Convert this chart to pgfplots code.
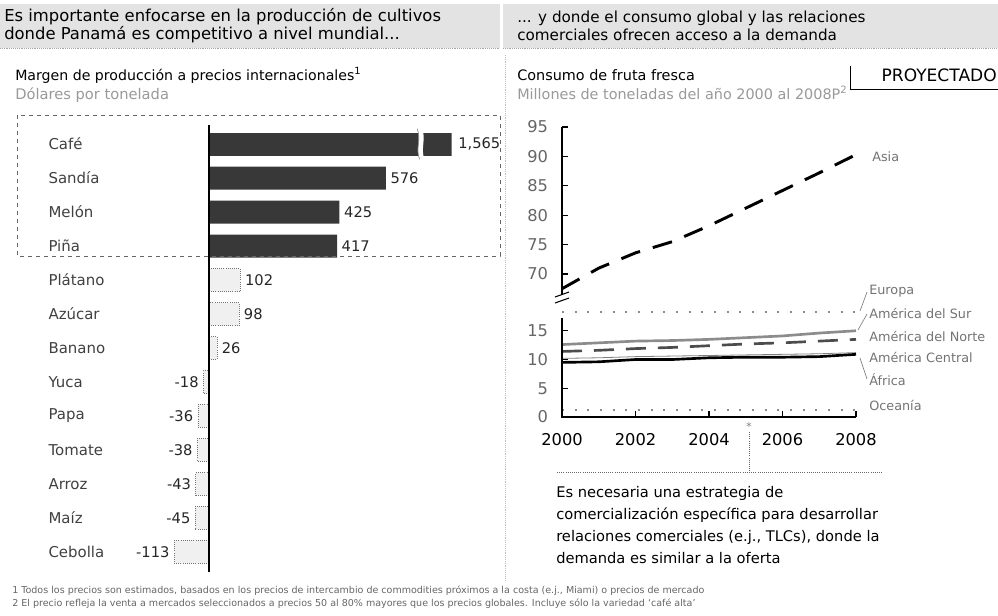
\documentclass[border=0pt]{standalone}
\usepackage{pgfplots}
\pgfplotsset{compat=1.18}
\usepackage{fontspec}
\setmainfont{DejaVu Sans}
\pgfplotsset{/pgf/number format/assume math mode=true}
\begin{document}
\begin{tikzpicture}
\path[use as bounding box] (0,0) rectangle (748.5pt,-461.25pt);

% ---------------- left bar chart ----------------
\begin{axis}[at={(96.89pt,-429pt)}, anchor=south west, scale only axis,
  width=241.76pt, height=335.25pt,
  xmin=-260, xmax=790, ymin=-0.56, ymax=12.59, y dir=reverse,
  xbar, bar width=17.25pt, bar shift=0pt,
  axis line style={draw=none}, xtick=\empty,
  ytick={0,...,12},
  yticklabels={Café,Sandía,Melón,Piña,Plátano,Azúcar,Banano,Yuca,Papa,Tomate,Arroz,Maíz,Cebolla},
  major tick length=0pt,
  yticklabel style={anchor=west, xshift=-64pt, font=\fontsize{11.2}{12}\selectfont, text=black!75},
  nodes near coords style={font=\fontsize{11}{12}\selectfont, text=black!85},
  point meta=x]
\addplot[fill=black!78, draw=none] coordinates {(1565,0)};
\addplot[fill=black!78, draw=none, nodes near coords] coordinates {(576,1) (425,2) (417,3)};
\addplot[fill=black!6, draw=black!55, densely dotted, line width=0.6pt, nodes near coords]
  coordinates {(102,4) (98,5) (26,6) (-18,7) (-36,8) (-38,9) (-43,10) (-45,11) (-113,12)};
\draw[line width=1.6pt] (axis cs:0,-0.56) -- (axis cs:0,12.59);
\fill[white] (axis cs:678,-0.45) .. controls (axis cs:692,-0.15) and (axis cs:672,0.15) .. (axis cs:686,0.45)
  -- (axis cs:702,0.45) .. controls (axis cs:688,0.15) and (axis cs:708,-0.15) .. (axis cs:694,-0.45) -- cycle;
\draw[black!45, line width=0.5pt] (axis cs:678,-0.45) .. controls (axis cs:692,-0.15) and (axis cs:672,0.15) .. (axis cs:686,0.45);
\end{axis}

% ---------------- right lower axis ----------------
\begin{axis}[at={(421.5pt,-312.75pt)}, anchor=south west, scale only axis,
  width=220.5pt, height=86.25pt,
  xmin=2000, xmax=2008, ymin=0, ymax=20, clip=false,
  axis line style={draw=none}, tick align=inside, major tick length=4.5pt,
  tick pos=left, tick style={black, line width=0.9pt},
  xtick={2000,2002,...,2008}, ytick={0,5,10,15},
  xticklabel style={/pgf/number format/1000 sep={}, yshift=-9pt, font=\fontsize{12.2}{13}\selectfont},
  yticklabel style={xshift=-7pt, font=\fontsize{12.2}{13}\selectfont, text=black!60}]
\addplot[black!45, line width=1.5pt, dash pattern=on 1.5pt off 8pt] coordinates
  {(2000,18.2) (2001,18.2) (2002,18.2) (2003,18.2) (2004,18.2) (2005,18.2) (2006,18.2) (2007,18.2) (2008,18.2)};
\addplot[black!45, line width=2pt] coordinates
  {(2000,12.6) (2001,12.9) (2002,13.2) (2003,13.3) (2004,13.5) (2005,13.8) (2006,14.1) (2007,14.6) (2008,15.0)};
\addplot[black!70, line width=2pt, dash pattern=on 15pt off 9pt] coordinates
  {(2000,11.4) (2001,11.6) (2002,11.9) (2003,12.1) (2004,12.4) (2005,12.7) (2006,12.9) (2007,13.2) (2008,13.5)};
\addplot[black!50, line width=0.6pt] coordinates
  {(2000,10.2) (2001,10.3) (2002,10.5) (2003,10.6) (2004,10.7) (2005,10.8) (2006,10.9) (2007,11.0) (2008,11.2)};
\addplot[black, line width=2pt] coordinates
  {(2000,9.5) (2001,9.6) (2002,10.0) (2003,10.0) (2004,10.3) (2005,10.4) (2006,10.4) (2007,10.5) (2008,10.9)};
\addplot[black!45, line width=1.5pt, dash pattern=on 1.5pt off 8pt] coordinates
  {(2000,1.2) (2001,1.2) (2002,1.2) (2003,1.2) (2004,1.2) (2005,1.2) (2006,1.2) (2007,1.2) (2008,1.2)};
\draw[line width=1pt] (axis cs:2000,17.3) -- (axis cs:2000,0) -- (axis cs:2008,0);
\end{axis}

% ---------------- right upper axis ----------------
\begin{axis}[at={(421.5pt,-220.95pt)}, anchor=south west, scale only axis,
  width=220.5pt, height=125.7pt,
  xmin=2000, xmax=2008, ymin=66.5, ymax=95, clip=false,
  axis line style={draw=none}, tick align=inside, major tick length=4.5pt,
  tick pos=left, tick style={black, line width=0.9pt},
  xtick=\empty, ytick={70,75,...,95},
  yticklabel style={xshift=-7pt, font=\fontsize{12.2}{13}\selectfont, text=black!60}]
\addplot[black, line width=2.2pt, dash pattern=on 15pt off 10pt] coordinates
  {(2000,67.5) (2001,71.0) (2002,73.6) (2003,75.5) (2004,78.2) (2005,81.2) (2006,84.2) (2007,87.2) (2008,90.3)};
\draw[line width=1pt] (axis cs:2000,95) -- (axis cs:2000,66.5);
\end{axis}

% ---------------- annotations (px coordinates) ----------------
\begin{scope}[x=0.75pt,y=-0.75pt]
\fill[black!11] (0,4) rectangle (500,48);
\fill[black!11] (503,4) rectangle (998,48);
\draw[black!35, densely dotted] (0,48) -- (500,48) (503,48) -- (998,48);
\node[anchor=west, align=left, inner sep=0pt, font=\fontsize{12.3}{13.5}\selectfont] at (4,26)
  {Es importante enfocarse en la producción de cultivos\\donde Panamá es competitivo a nivel mundial...};
\node[anchor=west, align=left, inner sep=0pt, font=\fontsize{11.4}{13.5}\selectfont] at (517,26)
  {... y donde el consumo global y las relaciones\\comerciales ofrecen acceso a la demanda};

\draw[black!25, densely dotted] (505,55) -- (505,580);

\node[anchor=base west, inner sep=0pt, font=\fontsize{10.6}{13}\selectfont] at (15,80)
  {Margen de producción a precios internacionales\textsuperscript{1}};
\node[anchor=base west, inner sep=0pt, text=black!40, font=\fontsize{11}{12}\selectfont] at (15,99)
  {Dólares por tonelada};
\node[anchor=base west, inner sep=0pt, font=\fontsize{10.8}{13}\selectfont] at (517,80)
  {Consumo de fruta fresca};
\node[anchor=base west, inner sep=0pt, text=black!40, font=\fontsize{10.8}{12}\selectfont] at (517,99)
  {Millones de toneladas del año 2000 al 2008P\textsuperscript{2}};
\node[anchor=base east, inner sep=0pt, font=\fontsize{12.8}{14}\selectfont] at (997,81) {PROYECTADO};
\draw[line width=0.6pt] (850,66) -- (850,89) -- (998,89);

\draw[black!60, dashed, line width=0.6pt] (17,115) rectangle (500,256);
\node[anchor=west, inner sep=0pt, font=\fontsize{11}{12}\selectfont, text=black!85] at (458,144) {1,565};

% break marks on right axis
\draw[line width=0.8pt] (555,297) -- (569,292);
\draw[line width=0.8pt] (555,303) -- (569,298);

% series labels
\node[anchor=west, inner sep=0pt, text=black!55, font=\fontsize{9.6}{10}\selectfont] at (872,157) {Asia};
\node[anchor=west, inner sep=0pt, text=black!55, font=\fontsize{9.6}{10}\selectfont] at (869,291) {Europa};
\node[anchor=west, inner sep=0pt, text=black!55, font=\fontsize{9.6}{10}\selectfont] at (869,313) {América del Sur};
\node[anchor=west, inner sep=0pt, text=black!55, font=\fontsize{9.6}{10}\selectfont] at (869,336) {América del Norte};
\node[anchor=west, inner sep=0pt, text=black!55, font=\fontsize{9.6}{10}\selectfont] at (869,357) {América Central};
\node[anchor=west, inner sep=0pt, text=black!55, font=\fontsize{9.6}{10}\selectfont] at (869,380) {África};
\node[anchor=west, inner sep=0pt, text=black!55, font=\fontsize{9.6}{10}\selectfont] at (869,405) {Oceanía};
\draw[black!50, line width=0.5pt] (860,311) -- (867,292);
\draw[black!50, line width=0.5pt] (858,330) -- (867,314);
\draw[black!50, line width=0.5pt] (860,358) -- (867,379);

% bottom note
\node[text=black!50, inner sep=0pt, font=\fontsize{8}{8}\selectfont] at (749,427) {*};
\draw[black!60, densely dotted, line width=0.6pt] (749,432) -- (749,472);
\draw[black!60, densely dotted, line width=0.6pt] (557,472) -- (882,472);
\node[anchor=north west, align=left, inner sep=0pt, font=\fontsize{11}{16.5}\selectfont] at (556,486)
  {Es necesaria una estrategia de\\comercialización específica para desarrollar\\relaciones comerciales (e.j., TLCs), donde la\\demanda es similar a la oferta};

% footnotes
\node[anchor=base west, inner sep=0pt, text=black!60, font=\fontsize{7.15}{8}\selectfont] at (12,593)
  {1 Todos los precios son estimados, basados en los precios de intercambio de commodities próximos a la costa (e.j., Miami) o precios de mercado};
\node[anchor=base west, inner sep=0pt, text=black!60, font=\fontsize{7.15}{8}\selectfont] at (12,606)
  {2 El precio refleja la venta a mercados seleccionados a precios 50 al 80\% mayores que los precios globales. Incluye sólo la variedad `café alta'};
\end{scope}
\end{tikzpicture}
\end{document}
